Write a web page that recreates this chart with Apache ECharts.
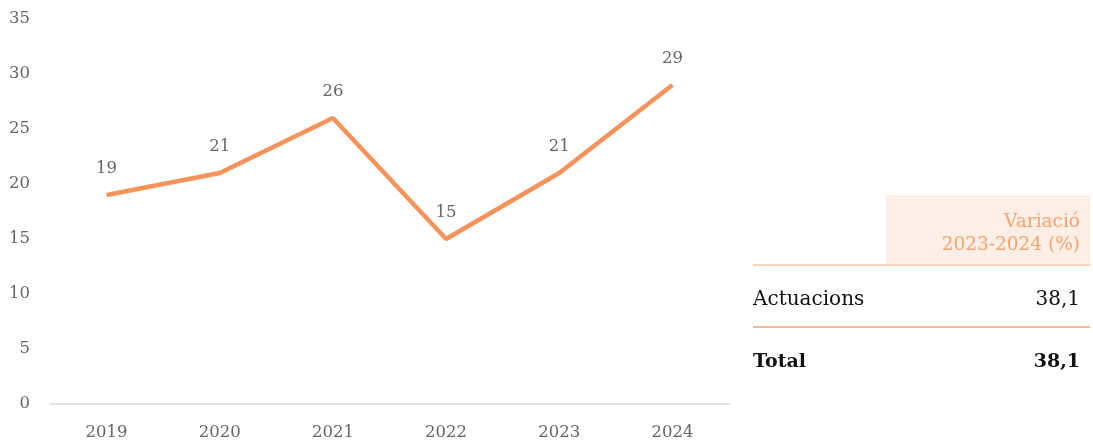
<!DOCTYPE html>
<html><head><meta charset="utf-8">
<script src="https://cdn.jsdelivr.net/npm/echarts@6/dist/echarts.min.js"></script>
<style>html,body{margin:0;padding:0;background:#fff}#c{width:1093px;height:443px}</style>
</head><body><div id="c"></div>
<script>
const categories = ['2019','2020','2021','2022','2023','2024'];
const values = [19, 21, 26, 15, 21, 29];
const yTicks = [0, 5, 10, 15, 20, 25, 30, 35];
const tableHeader = ['Variació', '2023-2024 (%)'];
const tableRows = [['Actuacions', '38,1'], ['Total', '38,1']];

const FONT = '"DejaVu Serif", serif';
const chart = echarts.init(document.getElementById('c'));
const orange = '#F5935A';
const graphics = [
  {type:'rect', shape:{x:886, y:195, width:204, height:69}, style:{fill:'#FDEEE6'}},
  {type:'text', style:{text: tableHeader[0], x:1080, y:222, align:'right', verticalAlign:'middle', fill:'#F5A36F', font:'18.5px '+FONT}},
  {type:'text', style:{text: tableHeader[1], x:1080, y:245, align:'right', verticalAlign:'middle', fill:'#F5A36F', font:'18.5px '+FONT}},
  {type:'line', shape:{x1:753, y1:265, x2:1090, y2:265}, style:{stroke:'#F8C4A6', lineWidth:1.5}},
  {type:'text', style:{text: tableRows[0][0], x:753, y:300, align:'left', verticalAlign:'middle', fill:'#111', font:'20px '+FONT}},
  {type:'text', style:{text: tableRows[0][1], x:1080, y:300, align:'right', verticalAlign:'middle', fill:'#111', font:'20px '+FONT}},
  {type:'line', shape:{x1:753, y1:327, x2:1090, y2:327}, style:{stroke:'#F5A070', lineWidth:1.5}},
  {type:'text', style:{text: tableRows[1][0], x:753, y:362, align:'left', verticalAlign:'middle', fill:'#111', font:'bold 19px '+FONT}},
  {type:'text', style:{text: tableRows[1][1], x:1080, y:362, align:'right', verticalAlign:'middle', fill:'#111', font:'bold 19px '+FONT}}
];
chart.setOption({
  animation:false,
  grid:{left:50, right:1093-729, top:19, bottom:443-404, containLabel:false},
  xAxis:{type:'category', data:categories, boundaryGap:true,
    axisLine:{lineStyle:{color:'#dcdcdc', width:1.5}}, axisTick:{show:false},
    axisLabel:{color:'#666', fontFamily:FONT, fontSize:16.5, margin:20}},
  yAxis:{type:'value', min:yTicks[0], max:yTicks[yTicks.length-1], interval:5,
    axisLine:{show:false}, axisTick:{show:false}, splitLine:{show:false},
    axisLabel:{color:'#666', fontFamily:FONT, fontSize:16.5, margin:20}},
  series:[{type:'line', data:values, symbol:'circle', symbolSize:1, showSymbol:true,
    itemStyle:{color:'rgba(0,0,0,0)', borderWidth:0},
    lineStyle:{color:orange, width:4.5},
    label:{show:true, position:'top', distance:17, color:'#666', fontFamily:FONT, fontSize:16.5}}],
  graphic: graphics
});
</script></body></html>
